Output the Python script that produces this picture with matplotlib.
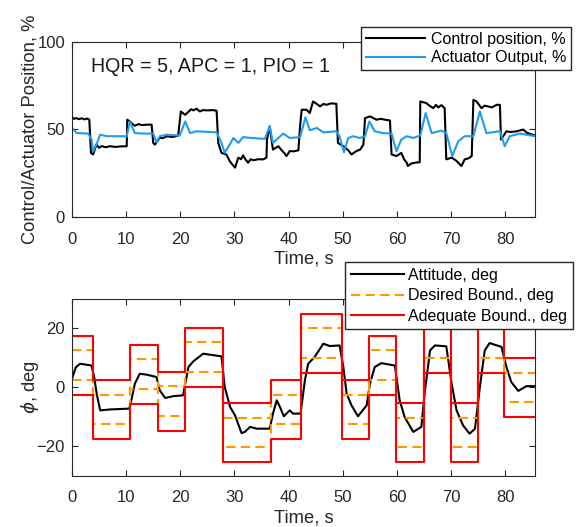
import numpy as np
import matplotlib
matplotlib.use('Agg')
import matplotlib.pyplot as plt

plt.rcParams['font.family'] = ['Liberation Sans', 'DejaVu Sans']
plt.rcParams['mathtext.fontset'] = 'dejavusans'

# control position, % (black)
t_ctrl = [0, 0.4, 0.8, 1.2, 1.8, 2.3, 2.8, 3.2, 3.5, 3.9, 4.5, 5.0, 5.5, 6.2, 7.0, 8.0, 9.0, 10.1,
          10.2, 10.7, 11.2, 11.6, 12.3, 12.9, 13.8, 14.7, 15.0, 15.3, 16.2, 16.8, 17.5, 18.5, 19.6,
          20.1, 20.9, 21.5, 22.0, 22.4, 23.0, 23.6, 24.2, 25.0, 26.0, 26.7, 27.0, 27.6, 28.5, 29.1,
          29.6, 30.1, 30.7, 31.2, 31.6, 32.0, 32.5, 33.0, 33.5, 34.4, 35.3, 35.9, 36.0, 36.5, 37.1,
          38.1, 38.7, 39.2, 39.6, 40.2, 41.0, 41.8, 42.1, 42.4, 43.3, 43.9, 44.5, 45.2, 45.8, 46.4,
          47.0, 47.8, 48.8, 49.1, 50.1, 51.0, 51.6, 52.5, 53.2, 53.8, 54.1, 55.0, 55.6, 56.2, 57.0,
          57.8, 58.7, 59.0, 59.9, 60.8, 61.3, 61.8, 62.0, 62.6, 63.3, 64.2, 64.3, 65.4, 66.0, 66.7,
          67.2, 67.6, 68.2, 68.8, 69.1, 70.1, 71.0, 71.9, 72.5, 73.2, 73.8, 74.1, 74.7, 75.6, 76.2,
          76.8, 77.5, 78.4, 79.0, 79.2, 80.2, 81.0, 82.1, 83.3, 84.0, 85.5]
ctrl = [57.0, 56.0, 56.5, 55.8, 56.3, 55.7, 56.2, 55.5, 36.6, 35.7, 41.3, 39.5, 40.5, 39.8, 40.4, 40.0, 40.3, 40.4,
        55.5, 54.5, 53.0, 52.1, 53.0, 52.4, 52.7, 52.7, 42.3, 41.3, 45.2, 45.0, 46.1, 45.6, 46.5,
        60.2, 58.3, 60.0, 61.5, 60.8, 61.8, 60.2, 61.0, 60.8, 61.0, 60.6, 42.3, 36.6, 35.7, 32.0,
        30.0, 28.2, 33.9, 33.0, 35.2, 33.0, 31.0, 33.0, 32.4, 33.0, 32.9, 33.9, 44.2, 51.7, 38.5,
        40.4, 38.1, 36.5, 34.8, 37.6, 37.5, 38.1, 51.7, 61.2, 61.2, 59.3, 65.9, 64.5, 63.1, 64.5,
        64.0, 64.8, 64.6, 42.3, 40.4, 38.1, 35.7, 37.6, 38.5, 41.3, 56.4, 57.4, 56.5, 55.5, 56.0,
        55.5, 55.1, 35.7, 34.8, 36.6, 33.0, 31.0, 29.1, 30.5, 31.0, 31.3, 65.9, 65.0, 63.5, 62.1,
        64.0, 62.5, 63.8, 62.1, 32.9, 33.9, 32.0, 29.1, 32.9, 33.5, 34.8, 66.8, 65.9, 62.1, 63.5,
        63.1, 62.5, 64.0, 64.0, 44.2, 48.9, 48.5, 48.9, 49.9, 48.0, 46.5]

# actuator output, % (blue)
t_act = [0, 0.85, 3.0, 3.6, 3.9, 4.5, 5.2, 6.4, 10.1, 10.7, 11.6, 13.2, 15.0, 15.6, 16.2, 17.5, 19.9,
         20.9, 21.8, 23.0, 26.7, 27.6, 28.2, 29.1, 29.8, 30.7, 31.6, 33.1, 35.6, 36.5, 37.1, 38.1,
         39.0, 40.2, 42.1, 43.1, 43.9, 45.2, 46.4, 48.8, 49.4, 50.2, 51.0, 51.9, 53.1, 54.1, 54.9,
         55.9, 57.4, 59.0, 59.9, 60.8, 61.8, 63.0, 64.3, 65.3, 66.4, 68.2, 69.1, 70.2, 71.3, 72.5,
         74.1, 75.3, 76.5, 79.0, 79.9, 80.8, 82.7, 85.5]
act = [50.8, 47.9, 47.6, 44.2, 37.5, 41.3, 47.0, 46.1, 46.1, 54.5, 47.9, 47.6, 47.6, 42.6, 46.1, 47.0, 46.5,
       54.5, 47.9, 48.9, 48.3, 42.3, 36.6, 41.3, 45.1, 42.3, 45.6, 45.1, 44.6, 51.7, 42.3, 45.1,
       47.6, 45.1, 45.6, 56.8, 49.5, 50.8, 48.3, 48.9, 46.1, 37.0, 45.1, 46.1, 45.1, 46.1, 54.5,
       48.9, 47.9, 47.6, 37.5, 44.2, 46.1, 45.1, 46.5, 59.3, 47.9, 49.3, 47.9, 34.8, 43.2, 46.1,
       46.1, 60.2, 47.9, 48.9, 40.4, 46.1, 47.6, 46.1]

# attitude, deg
t_att = [0, 0.7, 1.5, 3.6, 4.1, 4.55, 5.2, 7.0, 10.6, 11.0, 11.6, 12.5, 13.8, 15.6, 16.2, 17.2, 18.7, 20.5,
         21.5, 22.4, 24.2, 26.1, 27.6, 28.2, 29.2, 30.1, 31.3, 31.9, 32.9, 34.1, 36.5, 37.1, 37.8,
         38.4, 39.1, 40.2, 40.8, 42.2, 43.0, 43.6, 44.8, 46.4, 47.6, 49.4, 50.1, 50.7, 51.6, 52.8,
         54.4, 55.0, 55.9, 57.1, 59.6, 60.5, 61.4, 63.0, 64.5, 65.1, 66.1, 67.0, 69.1, 70.1, 71.0,
         72.2, 73.4, 74.4, 75.3, 76.2, 77.1, 79.3, 80.2, 81.1, 82.4, 83.9, 85.5]
att = [2.9, 6.8, 8.0, 7.4, 3.5, -2.1, -7.8, -7.5, -7.2, -4.0, 1.2, 4.6, 4.3, 3.5, -1.0, -3.6, -3.0, -2.7,
       6.9, 8.8, 11.4, 10.9, 10.5, 0.1, -6.7, -9.5, -15.5, -15.1, -13.4, -14.0, -14.0, -8.9, -4.4,
       -6.7, -9.8, -7.8, -8.9, -8.9, 2.4, 8.0, 10.3, 14.8, 14.0, 14.2, 6.9, -2.1, -6.1, -9.8,
       -6.1, 1.2, 6.9, 8.2, 7.4, -4.4, -10.0, -15.1, -13.4, -2.1, 12.5, 14.2, 13.9, 1.2, -7.8,
       -12.9, -15.7, -14.0, 0.1, 12.5, 15.0, 13.7, 6.9, 1.8, -1.2, 0.4, 0.4]

# bound segments: edges (s) and centre (deg)
edges = [0, 3.8, 10.8, 15.8, 20.9, 27.9, 36.8, 42.3, 49.9, 54.9, 59.9, 64.9, 69.9, 74.9, 79.8, 85.5]
centre = [7.5, -7.5, 4.5, -4.7, 10.2, -15.3, -7.5, 15, -7.5, 7.5, -15.3, 15, -15.3, 15, 0]
desired_hw = 5
adequate_hw = 10

c = np.append(centre, centre[-1])

fig = plt.figure(figsize=(5.76, 5.27), dpi=100)
ax1 = fig.add_axes([0.125, 0.588, 0.804, 0.333])
ax2 = fig.add_axes([0.125, 0.097, 0.804, 0.336])

axcol = '#262626'
tfs = 12
lfs = 13.2
legfs = 11.5

ax1.plot(t_ctrl, ctrl, color='black', lw=1.5, label='Control position, %')
ax1.plot(t_act, act, color='#1f9bf0', lw=1.5, label='Actuator Output, %')
ax1.set_xlim(0, 85.5)
ax1.set_ylim(0, 100)
ax1.set_yticks([0, 50, 100])
ax1.set_xticks(range(0, 81, 10))
ax1.set_xlabel('Time, s', fontsize=lfs, color=axcol, labelpad=3)
ax1.set_ylabel('Control/Actuator Position, %', fontsize=lfs, color=axcol)
ax1.yaxis.set_label_coords(-0.073, 0.5)
ax1.text(3.6, 82.5, 'HQR = 5, APC = 1, PIO = 1', fontsize=14.1, color='#1a1a1a')
ax1.legend(loc='upper right', bbox_to_anchor=(571 / 576, 1 - 27 / 527), bbox_transform=fig.transFigure,
           borderaxespad=0, fancybox=False, edgecolor=axcol, framealpha=1, fontsize=legfs,
           handlelength=3.7, borderpad=0.3, labelspacing=0.22, handletextpad=0.35)

ax2.plot(t_att, att, color='black', lw=1.5, label='Attitude, deg')
ax2.step(edges, c + desired_hw, where='post', color='#ff9900', lw=1.5, ls=(0, (4.5, 2.5)),
         label='Desired Bound., deg')
ax2.step(edges, c - desired_hw, where='post', color='#ff9900', lw=1.5, ls=(0, (4.5, 2.5)))
ax2.step(edges, c + adequate_hw, where='post', color='red', lw=1.5, label='Adequate Bound., deg')
ax2.step(edges, c - adequate_hw, where='post', color='red', lw=1.5)
ax2.set_xlim(0, 85.5)
ax2.set_ylim(-30, 30)
ax2.set_yticks([-20, 0, 20])
ax2.set_xticks(range(0, 81, 10))
ax2.set_xlabel('Time, s', fontsize=lfs, color=axcol, labelpad=3)
ax2.set_ylabel(r'$\phi$, deg', fontsize=lfs, color=axcol)
ax2.yaxis.set_label_coords(-0.068, 0.5)
ax2.legend(loc='upper right', bbox_to_anchor=(573 / 576, 1 - 262 / 527), bbox_transform=fig.transFigure,
           borderaxespad=0, fancybox=False, edgecolor=axcol, framealpha=1, fontsize=legfs,
           handlelength=3.3, borderpad=0.35, labelspacing=0.35, handletextpad=0.3)

for ax in (ax1, ax2):
    ax.tick_params(direction='in', top=True, right=True, labelsize=tfs, colors=axcol, length=4)
    ax.tick_params(axis='x', pad=10.5)
    ax.tick_params(axis='y', pad=5)
    for s in ax.spines.values():
        s.set_color(axcol)
        s.set_linewidth(0.8)

fig.savefig('out.png', dpi=100)
plt.close()
